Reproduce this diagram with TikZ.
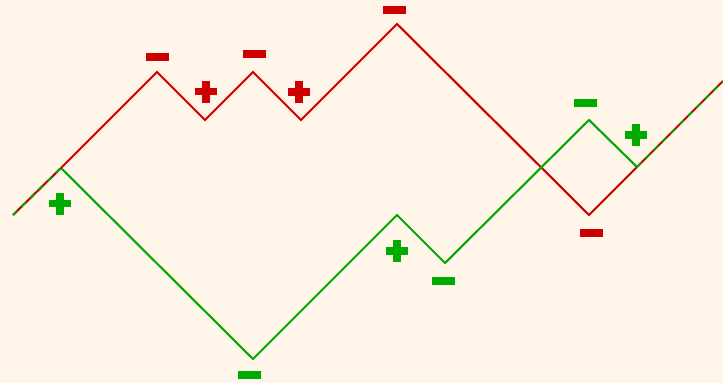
\documentclass[tikz,border=0pt]{standalone}
\definecolor{bg}{HTML}{FFF5E8}
\definecolor{rd}{HTML}{CC0000}
\definecolor{gn}{HTML}{00AA00}
\tikzset{
  redline/.style={draw=rd,line width=2.1pt,line join=miter},
  greenline/.style={draw=gn,line width=2.1pt,line join=miter},
  shared/.style={draw=gn,line width=2.1pt,dash pattern=on 6pt off 6pt},
  minus/.pic={\fill[#1] (-11.5,-4) rectangle (11.5,4);},
  plus/.pic={\fill[#1] (-11,-3.8) rectangle (11,3.8); \fill[#1] (-3.8,-11) rectangle (3.8,11);}
}
\begin{document}
\begin{tikzpicture}[x=1pt,y=-1pt]
\fill[bg] (0,0) rectangle (723,383);
\useasboundingbox (0,0) rectangle (723,383);
\coordinate (s) at (13,215);
\coordinate (j) at (61,168);
\coordinate (r1) at (157,72);
\coordinate (r2) at (205,120);
\coordinate (r3) at (253,72);
\coordinate (r4) at (301,120);
\coordinate (r5) at (397,24);
\coordinate (r6) at (589,215);
\coordinate (k) at (637,167);
\coordinate (e) at (723,81);
\coordinate (g1) at (253,359);
\coordinate (g2) at (397,215);
\coordinate (g3) at (445,263);
\coordinate (g4) at (589,120);
\path[redline] (j) -- (r1) -- (r2) -- (r3) -- (r4) -- (r5) -- (r6) -- (k);
\path[greenline] (j) -- (g1) -- (g2) -- (g3) -- (g4) -- (k);
\path[redline] (s) -- (j);
\path[redline] (k) -- (e);
\path[shared] (s) -- (j);
\path[shared] (k) -- (e);
% red signs
\pic at (157.5,57) {minus=rd};
\pic at (206,91.5) {plus=rd};
\pic at (254.5,54) {minus=rd};
\pic at (299,92) {plus=rd};
\pic at (394.5,10) {minus=rd};
\pic at (591.5,233) {minus=rd};
% green signs
\pic at (60,203.5) {plus=gn};
\pic at (249.5,375) {minus=gn};
\pic at (397,251) {plus=gn};
\pic at (443.5,281) {minus=gn};
\pic at (585.5,103) {minus=gn};
\pic at (636,135) {plus=gn};
\end{tikzpicture}
\end{document}
